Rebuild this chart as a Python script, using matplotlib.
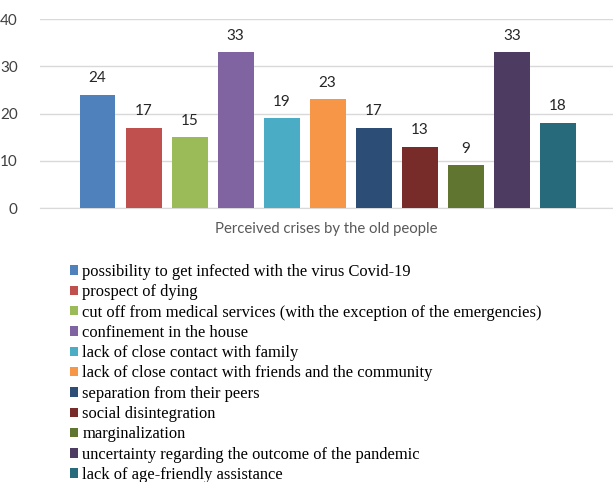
import matplotlib.pyplot as plt
from matplotlib.patches import Patch

# data
crises = ['possibility to get infected with the virus Covid-19',
          'prospect of dying',
          'cut off from medical services (with the exception of the emergencies)',
          'confinement in the house',
          'lack of close contact with family',
          'lack of close contact with friends and the community',
          'separation from their peers',
          'social disintegration',
          'marginalization',
          'uncertainty regarding the outcome of the pandemic',
          'lack of age-friendly assistance']
counts = [24, 17, 15, 33, 19, 23, 17, 13, 9, 33, 18]
colors = ['#4F81BD', '#C0504D', '#9BBB59', '#8064A2', '#4BACC6', '#F79646',
          '#2C4D75', '#772C2A', '#5F7530', '#4D3B62', '#276A7C']

fig = plt.figure(figsize=(6.13, 4.82), dpi=100)
ax = fig.add_axes([40/613, 1-208/482, 573/613, 189/482])

x = list(range(len(counts)))
bars = ax.bar(x, counts, width=0.78, color=colors, zorder=3)
for xi, v in zip(x, counts):
    ax.text(xi, v + 2, str(v), ha='center', va='bottom', fontsize=11,
            color='#262626', family='Lato')

ax.set_xlim(-1.25, 11.2)
ax.set_ylim(0, 40)
ax.set_yticks([0, 10, 20, 30, 40])
ax.yaxis.grid(True, color='#d9d9d9', linewidth=1, zorder=0)
for s in ['top', 'right', 'left']:
    ax.spines[s].set_visible(False)
ax.spines['bottom'].set_color('#d9d9d9')
ax.tick_params(axis='y', length=0, labelsize=11, labelcolor='#404040', pad=16)
ax.tick_params(axis='x', length=0)
ax.set_xticks([])
for lab in ax.get_yticklabels():
    lab.set_family('Lato')
ax.set_xlabel('Perceived crises by the old people', fontsize=10.7,
              color='#595959', family='Lato', labelpad=10)

handles = [Patch(facecolor=c, edgecolor='none') for c in colors]
fig.legend(handles, crises, loc='upper left', bbox_to_anchor=(70/613, 1-264/482),
           frameon=False, prop={'family': 'Liberation Serif', 'size': 11.9},
           handlelength=0.5, handleheight=0.5, handletextpad=0.25,
           labelspacing=0.26, borderaxespad=0, borderpad=0)

plt.savefig('out.png', dpi=100)
